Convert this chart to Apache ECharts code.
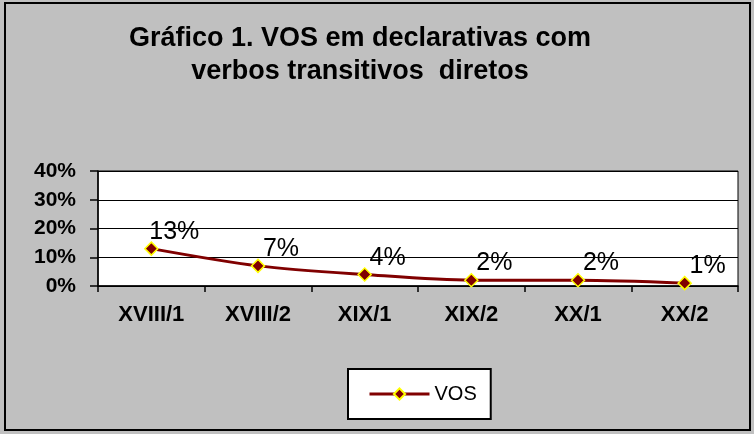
<!DOCTYPE html>
<html>
<head>
<meta charset="utf-8">
<script src="https://cdn.jsdelivr.net/npm/echarts@6/dist/echarts.min.js"></script>
<style>
  html, body { margin: 0; padding: 0; background: #c0c0c0; }
  #chart { width: 754px; height: 434px; }
</style>
</head>
<body>
<div id="chart"></div>
<script>
// períodos e percentuais
var periodos = ['XVIII/1', 'XVIII/2', 'XIX/1', 'XIX/2', 'XX/1', 'XX/2'];
var vos = [13, 7, 4, 2, 2, 1];
var yTicks = [0, 10, 20, 30, 40];

var chart = echarts.init(document.getElementById('chart'));

var option = {
  backgroundColor: '#c0c0c0',
  animation: false,
  title: {
    text: 'Gráfico 1. VOS em declarativas com\nverbos transitivos  diretos',
    left: 355,
    top: 17,
    textAlign: 'center',
    textStyle: {
      fontFamily: 'Liberation Sans, Arial',
      fontSize: 27,
      fontWeight: 'bold',
      color: '#000',
      lineHeight: 33
    }
  },
  graphic: [{
    type: 'rect',
    shape: { x: 5, y: 3, width: 745, height: 427 },
    style: { fill: 'none', stroke: '#000', lineWidth: 2 },
    silent: true
  }],
  legend: {
    data: ['VOS'],
    left: 348,
    top: 369,
    padding: [15, 14, 15, 20],
    backgroundColor: '#fff',
    borderColor: '#000',
    borderWidth: 2,
    itemWidth: 60,
    itemHeight: 14,
    itemGap: 5,
    lineStyle: { width: 3 },
    textStyle: {
      fontFamily: 'Liberation Sans, Arial',
      fontSize: 20,
      color: '#000'
    }
  },
  grid: {
    left: 98,
    right: 16,
    top: 171,
    bottom: 148,
    show: true,
    backgroundColor: '#fff',
    borderColor: '#000',
    borderWidth: 1
  },
  xAxis: {
    type: 'category',
    data: periodos,
    boundaryGap: true,
    axisLine: { lineStyle: { color: '#000', width: 1.5 } },
    axisTick: { show: true, inside: false, length: 6, lineStyle: { color: '#000', width: 1.5 } },
    axisLabel: {
      margin: 18,
      fontFamily: 'Liberation Sans, Arial',
      fontSize: 22,
      fontWeight: 'bold',
      color: '#000'
    }
  },
  yAxis: {
    type: 'value',
    min: yTicks[0],
    max: yTicks[yTicks.length - 1],
    interval: 10,
    axisLine: { show: true, lineStyle: { color: '#000', width: 1.5 } },
    axisTick: { show: true, length: 8, lineStyle: { color: '#000', width: 1.5 } },
    splitLine: { lineStyle: { color: '#000', width: 1 } },
    axisLabel: {
      margin: 22,
      formatter: '{value}%',
      fontFamily: 'Liberation Sans, Arial',
      fontSize: 21,
      fontWeight: 'bold',
      color: '#000'
    }
  },
  series: [{
    name: 'VOS',
    type: 'line',
    data: vos,
    smooth: 0.3,
    symbol: 'diamond',
    symbolSize: 13,
    lineStyle: { color: '#800000', width: 3 },
    itemStyle: { color: '#800000', borderColor: '#ffff00', borderWidth: 1.5 },
    label: {
      show: true,
      position: 'top',
      distance: 0,
      offset: [23, 3],
      formatter: '{c}%',
      fontFamily: 'Liberation Sans, Arial',
      fontSize: 25,
      color: '#000'
    }
  }]
};

chart.setOption(option);
</script>
</body>
</html>
